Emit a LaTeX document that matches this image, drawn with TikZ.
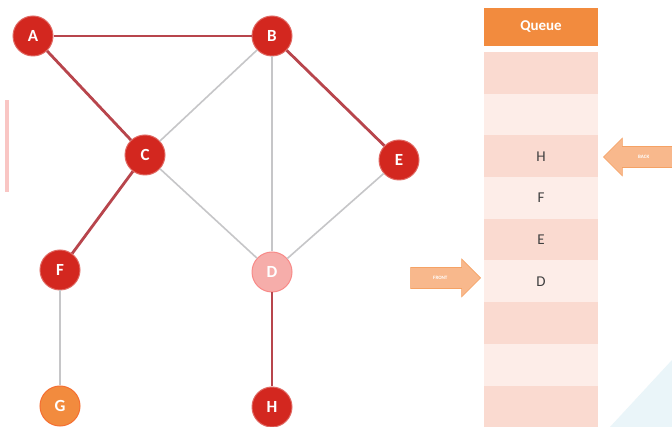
\documentclass[tikz,border=0pt]{standalone}
\usepackage{fontspec}
\setmainfont{Carlito}
\usepackage{tikz}
\usetikzlibrary{arrows,shapes,positioning}
\usetikzlibrary{calc,shapes.arrows}

\definecolor{rouge}{HTML}{D3271F}
\definecolor{rose}{HTML}{F6ADAA}
\definecolor{orange}{HTML}{F28B3E}
\definecolor{arete}{HTML}{B8454C}
\definecolor{gris}{HTML}{C6C6C8}
\definecolor{fonce}{HTML}{FADAD0}
\definecolor{clair}{HTML}{FDEDE8}
\definecolor{fleche}{HTML}{F8B88C}
\definecolor{ciel}{HTML}{EAF5F9}

\begin{document}
\begin{tikzpicture}[x=1pt,y=-1pt]
%sommet : disque plein avec lettre blanche
\tikzset{sommet/.style={circle,fill=rouge,draw=rouge!70!white,line width=1pt,minimum size=40pt,inner sep=0pt,text=white,font=\fontsize{17}{17}\selectfont\bfseries}}
\tikzset{vu/.style={line width=2.8pt,arete}} %arête parcourue
\tikzset{libre/.style={line width=1.6pt,gris}} %arête non parcourue
\tikzset{case/.style={minimum width=114pt,minimum height=41.7pt,inner sep=0pt,text=black!75,font=\fontsize{15}{15}\selectfont}}
\tikzset{pointeur/.style={single arrow,fill=fleche,draw=orange!80,line width=0.6pt,minimum height=70pt,minimum width=38pt,single arrow head extend=4pt,inner sep=3pt,text=white,font=\fontsize{5}{5}\selectfont\bfseries}}

\useasboundingbox (0,0) rectangle (672,427);
\fill[white] (0,0) rectangle (672,427);
\fill[ciel] (610,427) -- (672,360) -- (672,427) -- cycle;
\fill[rose!70] (5,100) rectangle (9,192);

% le graphe
\node[sommet] (A) at (33,36) {A};
\node[sommet] (B) at (272,36) {B};
\node[sommet] (C) at (145,155) {C};
\node[sommet] (E) at (399,160) {E};
\node[sommet,fill=rose,draw=rose!80!red] (D) at (272,272) {D};
\node[sommet] (F) at (60,270) {F};
\node[sommet,fill=orange,draw=orange!80!red] (G) at (60,406) {G};
\node[sommet] (H) at (272,407) {H};

\draw[libre] (B) -- (C);
\draw[libre] (B) -- (D);
\draw[libre] (C) -- (D);
\draw[libre] (E) -- (D);
\draw[libre] (F) -- (G);
\draw[vu] (A) -- (B);
\draw[vu] (A) -- (C);
\draw[vu] (B) -- (E);
\draw[vu] (C) -- (F);
\draw[vu] (D) -- (H);

% la file
\node[case,fill=orange,minimum height=38pt,text=white,font=\fontsize{15}{15}\selectfont\bfseries] (Q) at (541,27) {Queue};
\foreach \i/\t in {1/,2/,3/H,4/F,5/E,6/D,7/,8/,9/} {
  \pgfmathsetmacro{\y}{52+41.7*(\i-0.5)}
  \ifodd\i
    \node[case,fill=fonce] (q\i) at (541,\y) {\t};
  \else
    \node[case,fill=clair] (q\i) at (541,\y) {\t};
  \fi
}

% les pointeurs
\node[pointeur,shape border rotate=180,anchor=west] (back) at (603,157) {BACK};
\node[pointeur,anchor=east] (front) at (481,278) {FRONT};
\end{tikzpicture}
\end{document}
